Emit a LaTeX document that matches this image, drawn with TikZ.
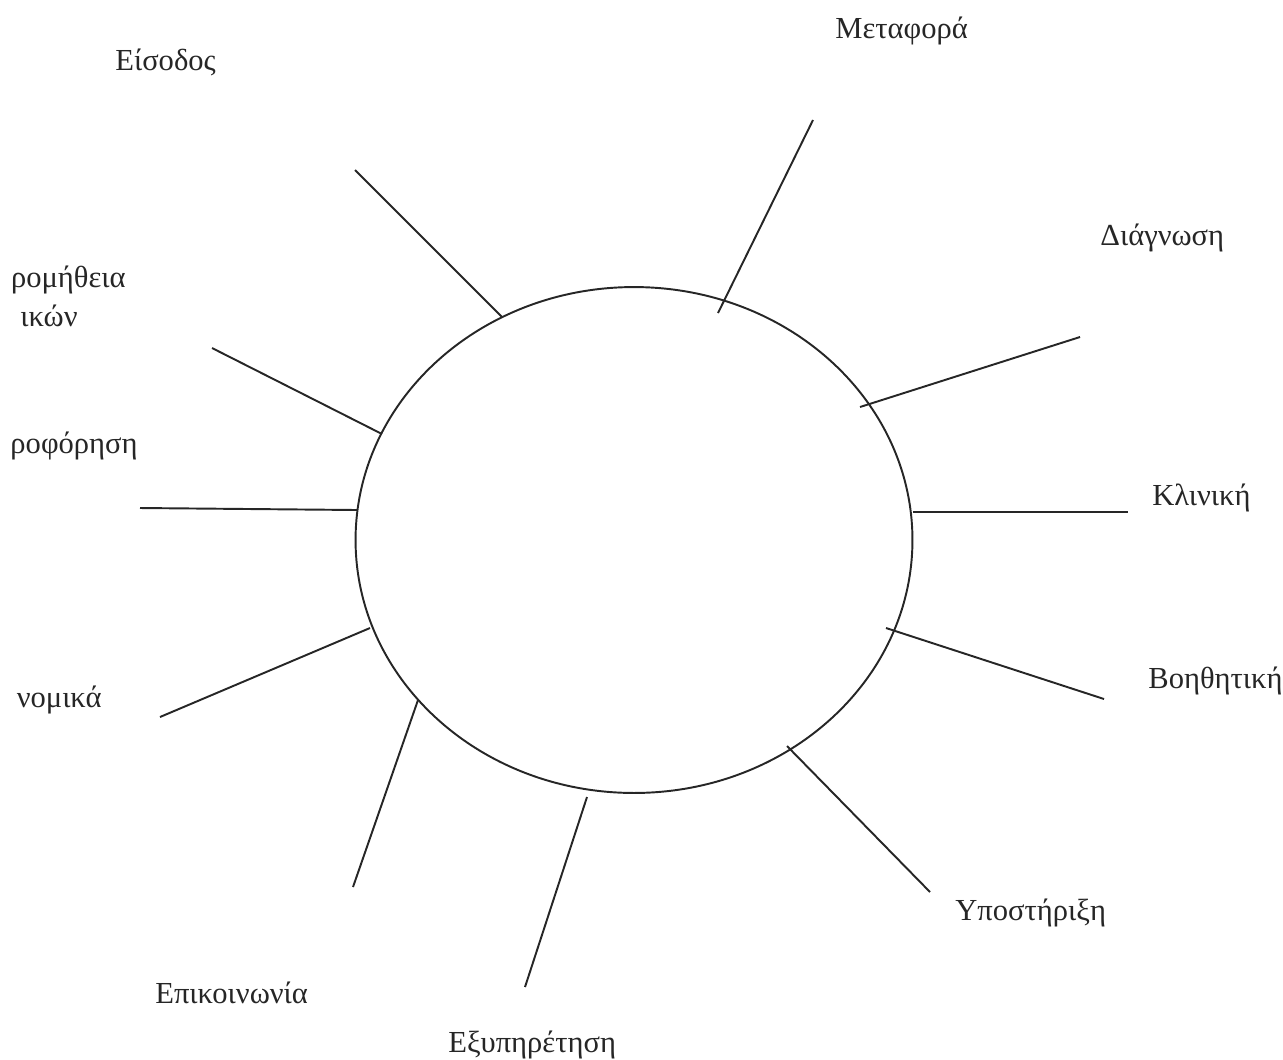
\documentclass[tikz,border=0pt]{standalone}
\usepackage{fontspec}
\setmainfont{Liberation Serif}
\usepackage{tikz}
\usetikzlibrary{shapes.geometric}
\definecolor{inkgray}{HTML}{262626}

\begin{document}
\begin{tikzpicture}[x=0.02cm,y=-0.02cm,
  hubshape/.style={draw=inkgray,line width=1.1pt,ellipse,inner sep=0pt,
    minimum width=11.14cm,minimum height=10.12cm},
  spoke/.style={draw=inkgray,line width=1.1pt},
  lbl/.style={font=\fontsize{17.4}{20}\selectfont,text=inkgray,inner sep=0pt}]
  \useasboundingbox (0,0) rectangle (1283,1059);
  \node[hubshape] (hub) at (634,540) {};
  % spoke ends
  \coordinate (in1) at (502,317);  \coordinate (out1) at (355,170);
  \coordinate (in2) at (718,313);  \coordinate (out2) at (813,120);
  \coordinate (in3) at (860,407);  \coordinate (out3) at (1080,337);
  \coordinate (in4) at (913,512);  \coordinate (out4) at (1128,512);
  \coordinate (in5) at (886,628);  \coordinate (out5) at (1104,699);
  \coordinate (in6) at (787,746);  \coordinate (out6) at (930,892);
  \coordinate (in7) at (587,797);  \coordinate (out7) at (525,987);
  \coordinate (in8) at (418,700);  \coordinate (out8) at (353,887);
  \coordinate (in9) at (370,628);  \coordinate (out9) at (160,717);
  \coordinate (in10) at (357,510); \coordinate (out10) at (140,508);
  \coordinate (in11) at (382,434); \coordinate (out11) at (212,348);
  \draw[spoke] (in1) -- (out1);
  \draw[spoke] (in2) -- (out2);
  \draw[spoke] (in3) -- (out3);
  \draw[spoke] (in4) -- (out4);
  \draw[spoke] (in5) -- (out5);
  \draw[spoke] (in6) -- (out6);
  \draw[spoke] (in7) -- (out7);
  \draw[spoke] (in8) -- (out8);
  \draw[spoke] (in9) -- (out9);
  \draw[spoke] (in10) -- (out10);
  \draw[spoke] (in11) -- (out11);
  % labels
  \node[lbl,anchor=base west] (eisodos) at (115,70) {Είσοδος};
  \node[lbl,anchor=base west] (metafora) at (835,38) {Μεταφορά};
  \node[lbl,anchor=base west] (diagnosi) at (1100,245) {Διάγνωση};
  \node[lbl,anchor=base west] (kliniki) at (1152,505) {Κλινική};
  \node[lbl,anchor=base west] (voithitiki) at (1148,688) {Βοηθητική};
  \node[lbl,anchor=base west] (ypostirixi) at (955,920) {Υποστήριξη};
  \node[lbl,anchor=base west] (exypiretisi) at (448,1052) {Εξυπηρέτηση};
  \node[lbl,anchor=base west] (epikoinonia) at (155,1003) {Επικοινωνία};
  % texts cut at the left edge
  \node[lbl,anchor=base east] (oikonomika) at (102,707) {νομικά};
  \node[lbl,anchor=base east] (pliroforisi) at (138,453) {ροφόρηση};
  \node[lbl,anchor=base east] (promitheia) at (126,287) {ρομήθεια};
  \node[lbl,anchor=base east] (ylikon) at (78,326) {ικών};
\end{tikzpicture}
\end{document}
